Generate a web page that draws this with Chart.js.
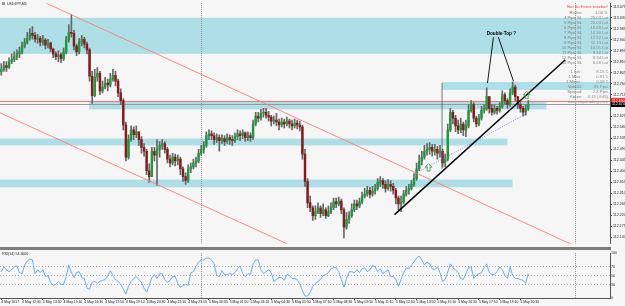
<!DOCTYPE html>
<html>
<head>
<meta charset="utf-8">
<script src="https://cdn.jsdelivr.net/npm/chart.js@4.4.1/dist/chart.umd.min.js"></script>
<style>
  html, body { margin: 0; padding: 0; background: #f6f6f6; }
  body { width: 625px; height: 306px; position: relative; overflow: hidden; }
  #priceChart { position: absolute; left: 0; top: 0; }
  #sep { position: absolute; left: 0; top: 247px; width: 611px; height: 3px; background: #7d7d7d; }
  #rsiChart { position: absolute; left: 0; top: 250px; }
</style>
</head>
<body>
<canvas id="priceChart" width="625" height="247"></canvas>
<div id="sep"></div>
<canvas id="rsiChart" width="625" height="56"></canvas>
<script>
// USDJPY 10-min candles (open = previous close)
const firstOpen = 112.810;
const closes = [
  112.818, 112.834, 112.826, 112.850, 112.858, 112.870, 112.882, 112.890, 112.914, 112.930,
  112.946, 112.966, 112.958, 112.942, 112.946, 112.930, 112.938, 112.918, 112.926, 112.902,
  112.882, 112.870, 112.878, 112.862, 112.890, 112.938, 112.970, 112.966, 112.914, 112.890,
  112.930, 112.942, 112.922, 112.898, 112.790, 112.710, 112.786, 112.802, 112.730, 112.746,
  112.762, 112.754, 112.778, 112.794, 112.770, 112.722, 112.690, 112.590, 112.458, 112.530,
  112.570, 112.550, 112.562, 112.530, 112.498, 112.482, 112.402, 112.378, 112.482, 112.466,
  112.490, 112.506, 112.514, 112.490, 112.450, 112.434, 112.458, 112.442, 112.450, 112.410,
  112.378, 112.362, 112.410, 112.418, 112.434, 112.442, 112.474, 112.490, 112.506, 112.546,
  112.554, 112.546, 112.530, 112.538, 112.526, 112.534, 112.522, 112.538, 112.530, 112.526,
  112.542, 112.554, 112.546, 112.558, 112.538, 112.546, 112.538, 112.594, 112.626, 112.618,
  112.638, 112.642, 112.630, 112.622, 112.606, 112.610, 112.602, 112.590, 112.602, 112.594,
  112.606, 112.594, 112.586, 112.598, 112.590, 112.582, 112.470, 112.358, 112.270, 112.250,
  112.218, 112.234, 112.250, 112.226, 112.242, 112.218, 112.234, 112.250, 112.274, 112.266,
  112.278, 112.242, 112.170, 112.202, 112.218, 112.242, 112.266, 112.258, 112.274, 112.298,
  112.306, 112.322, 112.306, 112.318, 112.330, 112.354, 112.362, 112.346, 112.330, 112.346,
  112.338, 112.322, 112.290, 112.266, 112.274, 112.306, 112.322, 112.330, 112.346, 112.370,
  112.410, 112.442, 112.458, 112.482, 112.490, 112.498, 112.482, 112.490, 112.474, 112.482,
  112.434, 112.450, 112.570, 112.642, 112.618, 112.586, 112.570, 112.594, 112.570, 112.586,
  112.650, 112.674, 112.618, 112.594, 112.618, 112.650, 112.658, 112.706, 112.658, 112.642,
  112.658, 112.650, 112.666, 112.714, 112.690, 112.674, 112.722, 112.746, 112.706, 112.674,
  112.658, 112.642, 112.658, 112.674
];
const highs = [
  112.842, 112.850, 112.850, 112.866, 112.882, 112.890, 112.898, 112.910, 112.930, 112.946,
  112.970, 112.986, 112.994, 112.970, 112.962, 112.954, 112.958, 112.946, 112.942, 112.930,
  112.906, 112.890, 112.894, 112.886, 112.906, 112.954, 113.002, 113.042, 112.978, 112.922,
  112.946, 112.958, 112.950, 112.930, 112.906, 112.810, 112.818, 112.826, 112.810, 112.770,
  112.786, 112.778, 112.802, 112.818, 112.810, 112.778, 112.738, 112.698, 112.602, 112.550,
  112.586, 112.582, 112.586, 112.562, 112.542, 112.514, 112.490, 112.430, 112.498, 112.498,
  112.530, 112.522, 112.530, 112.522, 112.498, 112.466, 112.474, 112.470, 112.466, 112.458,
  112.418, 112.394, 112.426, 112.434, 112.450, 112.458, 112.490, 112.506, 112.522, 112.562,
  112.570, 112.566, 112.558, 112.554, 112.550, 112.550, 112.546, 112.554, 112.550, 112.546,
  112.558, 112.570, 112.566, 112.570, 112.562, 112.562, 112.558, 112.610, 112.642, 112.642,
  112.654, 112.658, 112.658, 112.646, 112.630, 112.626, 112.638, 112.614, 112.618, 112.614,
  112.622, 112.614, 112.610, 112.614, 112.610, 112.606, 112.590, 112.490, 112.370, 112.298,
  112.258, 112.258, 112.270, 112.258, 112.266, 112.250, 112.258, 112.270, 112.290, 112.290,
  112.294, 112.286, 112.250, 112.230, 112.234, 112.266, 112.282, 112.282, 112.290, 112.314,
  112.330, 112.338, 112.334, 112.338, 112.346, 112.370, 112.378, 112.370, 112.362, 112.366,
  112.362, 112.350, 112.330, 112.298, 112.298, 112.322, 112.338, 112.346, 112.362, 112.390,
  112.434, 112.466, 112.482, 112.506, 112.514, 112.518, 112.510, 112.510, 112.502, 112.506,
  112.490, 112.470, 112.594, 112.658, 112.650, 112.630, 112.610, 112.618, 112.602, 112.610,
  112.674, 112.690, 112.682, 112.626, 112.634, 112.666, 112.674, 112.742, 112.698, 112.674,
  112.674, 112.666, 112.682, 112.730, 112.722, 112.698, 112.738, 112.766, 112.754, 112.706,
  112.682, 112.666, 112.674, 112.690
];
const lows = [
  112.794, 112.810, 112.810, 112.822, 112.842, 112.850, 112.858, 112.866, 112.882, 112.906,
  112.922, 112.938, 112.942, 112.930, 112.926, 112.914, 112.918, 112.902, 112.906, 112.890,
  112.866, 112.858, 112.850, 112.846, 112.854, 112.882, 112.930, 112.950, 112.898, 112.874,
  112.882, 112.914, 112.906, 112.882, 112.770, 112.678, 112.706, 112.770, 112.714, 112.722,
  112.738, 112.730, 112.746, 112.770, 112.750, 112.706, 112.674, 112.570, 112.442, 112.450,
  112.522, 112.530, 112.538, 112.506, 112.474, 112.462, 112.386, 112.354, 112.410, 112.442,
  112.342, 112.458, 112.490, 112.474, 112.434, 112.418, 112.426, 112.422, 112.426, 112.386,
  112.358, 112.346, 112.354, 112.394, 112.410, 112.418, 112.434, 112.466, 112.474, 112.498,
  112.530, 112.530, 112.510, 112.518, 112.482, 112.514, 112.506, 112.514, 112.510, 112.506,
  112.518, 112.530, 112.526, 112.534, 112.522, 112.526, 112.522, 112.530, 112.586, 112.602,
  112.610, 112.622, 112.618, 112.606, 112.586, 112.594, 112.586, 112.570, 112.582, 112.578,
  112.586, 112.578, 112.570, 112.578, 112.574, 112.566, 112.450, 112.338, 112.250, 112.234,
  112.198, 112.202, 112.226, 112.210, 112.218, 112.206, 112.214, 112.226, 112.242, 112.250,
  112.258, 112.226, 112.126, 112.162, 112.186, 112.210, 112.234, 112.242, 112.250, 112.266,
  112.290, 112.298, 112.290, 112.298, 112.306, 112.322, 112.338, 112.330, 112.314, 112.322,
  112.318, 112.306, 112.266, 112.242, 112.234, 112.266, 112.298, 112.306, 112.322, 112.338,
  112.362, 112.402, 112.426, 112.450, 112.466, 112.470, 112.462, 112.466, 112.450, 112.458,
  112.418, 112.418, 112.442, 112.562, 112.594, 112.562, 112.554, 112.558, 112.546, 112.542,
  112.578, 112.642, 112.602, 112.582, 112.586, 112.610, 112.638, 112.650, 112.638, 112.630,
  112.634, 112.634, 112.642, 112.658, 112.674, 112.658, 112.666, 112.714, 112.690, 112.658,
  112.642, 112.626, 112.630, 112.650
];
const rsiValues = [
  58.7, 69.6, 63, 58.7, 63, 69.6, 71.7, 56.5, 54.3, 73.9,
  82.6, 87, 84.8, 54.3, 63, 56.5, 63, 47.8, 50, 34.8,
  28.3, 30.4, 37, 30.4, 30.4, 47.8, 73.9, 56.5, 45.7, 56.5,
  58.7, 45.7, 43.5, 21.7, 19.6, 34.8, 37, 32.6, 37, 39.1,
  41.3, 50, 60.9, 50, 41.3, 37, 30.4, 19.6, 8.7, 26.1,
  37, 43.5, 47.8, 41.3, 34.8, 21.7, 13, 28.3, 45.7, 52.2,
  43.5, 54.3, 54.3, 41.3, 34.8, 39.1, 47.8, 47.8, 32.6, 23.9,
  28.3, 30.4, 28.3, 56.5, 58.7, 69.6, 80.4, 84.8, 84.8, 89.1,
  89.1, 84.8, 76.1, 50, 47.8, 60.9, 52.2, 52.2, 54.3, 52.2,
  56.5, 65.2, 71.7, 54.3, 47.8, 54.3, 52.2, 76.1, 84.8, 84.8,
  63, 54.3, 58.7, 63, 56.5, 37, 41.3, 45.7, 45.7, 39.1,
  52.2, 50, 43.5, 43.5, 41.3, 30.4, 17.4, 4.3, 4.3, 13,
  26.1, 32.6, 37, 41.3, 50, 52.2, 56.5, 65.2, 67.4, 67.4,
  58.7, 41.3, 23.9, 43.5, 58.7, 58.7, 56.5, 63, 56.5, 65.2,
  67.4, 58.7, 63, 71.7, 69.6, 58.7, 65.2, 54.3, 58.7, 63,
  47.8, 47.8, 41.3, 26.1, 41.3, 56.5, 67.4, 65.2, 73.9, 80.4,
  89.1, 93.5, 84.8, 73.9, 80.4, 76.1, 65.2, 63, 69.6, 56.5,
  37, 41.3, 58.7, 76.1, 67.4, 63, 56.5, 43.5, 41.3, 54.3,
  67.4, 69.6, 43.5, 50, 54.3, 56.5, 67.4, 76.1, 56.5, 52.2,
  52.2, 58.7, 69.6, 63, 50, 43.5, 69.6, 50, 43.5, 43.5,
  41.3, 39.1, 32.6, 54.3
];

const priceTicks = [112.130, 112.175, 112.220, 112.265, 112.310, 112.355, 112.400, 112.445,
  112.490, 112.535, 112.580, 112.625, 112.670, 112.715, 112.760, 112.805, 112.850, 112.895,
  112.940, 112.985, 113.030, 113.075];
const rsiTicks = [0, 30, 50, 70, 100];
const rsiLevels = [30, 50, 70];
const timeLabels = ['4 May 2017', '4 May 12:30', '4 May 13:50', '4 May 15:10', '4 May 16:30',
  '4 May 17:50', '4 May 19:10', '4 May 20:30', '4 May 21:50', '4 May 23:10', '5 May 00:30',
  '5 May 01:50', '5 May 03:10', '5 May 04:30', '5 May 05:50', '5 May 07:10', '5 May 08:30',
  '5 May 09:50', '5 May 11:10', '5 May 12:30', '5 May 13:50', '5 May 15:10', '5 May 16:30',
  '5 May 17:50', '5 May 19:10', '5 May 20:30'];
const LABEL_EVERY = 8;
const SLOT_COUNT = 235;       // bars + empty space on the right
const redLevel = 112.690;
const daySeparators = [77, 221];

// objects drawn on the chart, in bar index / price units
const zones = [
  { from: -0.5, to: null, top: 113.030, bottom: 112.882 },
  { from: 169.8, to: null, top: 112.766, bottom: 112.734 },
  { from: 33.8, to: 210, top: 112.686, bottom: 112.654 },
  { from: -0.5, to: 195, top: 112.534, bottom: 112.506 },
  { from: -0.5, to: 197, top: 112.366, bottom: 112.334 }
];
const channelLines = [
  { x1: 17.3, y1: 113.090, x2: 235, y2: 112.025 },
  { x1: -0.5, y1: 112.640, x2: 120, y2: 112.054 }
];
const blackLines = [
  { x1: 151.5, y1: 112.222, x2: 217.3, y2: 112.858, w: 1.4 },
  { x1: 189.6, y1: 112.950, x2: 187.3, y2: 112.762, w: 0.9 },
  { x1: 191.5, y1: 112.950, x2: 197.3, y2: 112.770, w: 0.9 }
];
const dottedLine = { x1: 161.5, y1: 112.402, x2: 202.7, y2: 112.638 };
const boxEdge = { x: 169.8, top: 112.762, bottom: 112.410 };
const arrows = [{ x: 164.6, y: 112.415 }, { x: 202.4, y: 112.712 }];
const noteText = { x: 187.0, y: 112.966, text: 'Double-Top ?' };

const infoTitle = 'Nur für Forex nutzbar!';
const infoRows = [
  ['Risiko:', '1.00 %'], ['4 Pips SL', '25.03 Lot'], ['5 Pips SL', '20.03 Lot'],
  ['6 Pips SL', '16.69 Lot'], ['7 Pips SL', '14.30 Lot'], ['8 Pips SL', '12.52 Lot'],
  ['9 Pips SL', '11.13 Lot'], ['10 Pips SL', '10.01 Lot'], ['11 Pips SL', '9.10 Lot'],
  ['12 Pips SL', '8.34 Lot'], ['15 Pips SL', '6.68 Lot']
];
const infoRows2 = [
  ['1 Lot :', '8.15 €'], ['1 Mini :', '0.81 €'], ['1 Micro :', '0.08 €'],
  ['Vola20:', '85 Pips'], ['Spread:', '2.3 Pips'], ['Kerze:', '0:15 (4:45)']
];
const infoLink = 'www.cap-trading.com';

const opens = closes.map((c, i) => i === 0 ? firstOpen : closes[i - 1]);
const bodies = closes.map((c, i) => [opens[i], c]);
const wicks = closes.map((c, i) => [Math.min(lows[i], opens[i], c), Math.max(highs[i], opens[i], c)]);
const slots = Array.from({ length: SLOT_COUNT }, (_, i) => i);
const FONT = 'Arial, "Liberation Sans", sans-serif';

function fixWidth(scale) { scale.width = 15; }

function drawSegment(ctx, chart, l, color, width, dash) {
  const x = chart.scales.x, y = chart.scales.y;
  ctx.beginPath();
  ctx.strokeStyle = color;
  ctx.lineWidth = width;
  ctx.setLineDash(dash || []);
  ctx.moveTo(x.getPixelForValue(l.x1), y.getPixelForValue(l.y1));
  ctx.lineTo(x.getPixelForValue(l.x2), y.getPixelForValue(l.y2));
  ctx.stroke();
  ctx.setLineDash([]);
}

function drawDaySeparators(chart) {
  const ctx = chart.ctx, area = chart.chartArea;
  ctx.save();
  ctx.strokeStyle = '#8a8a8a';
  ctx.lineWidth = 1;
  ctx.setLineDash([1, 1]);
  daySeparators.forEach(d => {
    const px = Math.round(chart.scales.x.getPixelForValue(d)) + 0.5;
    ctx.beginPath();
    ctx.moveTo(px, area.top);
    ctx.lineTo(px, area.bottom);
    ctx.stroke();
  });
  ctx.restore();
}

const priceOverlay = {
  id: 'priceOverlay',
  beforeDatasetsDraw(chart) {
    const ctx = chart.ctx, area = chart.chartArea;
    const x = chart.scales.x, y = chart.scales.y;
    ctx.save();
    ctx.fillStyle = '#aedfe6';
    zones.forEach(z => {
      const x1 = x.getPixelForValue(z.from);
      const x2 = z.to === null ? area.right : x.getPixelForValue(z.to);
      const y1 = y.getPixelForValue(z.top), y2 = y.getPixelForValue(z.bottom);
      ctx.fillRect(x1, y1, x2 - x1, y2 - y1);
    });
    // bid line and red level line
    const bid = closes[closes.length - 1];
    ctx.strokeStyle = '#9a9a9a';
    ctx.lineWidth = 1;
    let py = Math.round(y.getPixelForValue(bid)) + 0.5;
    ctx.beginPath(); ctx.moveTo(area.left, py); ctx.lineTo(area.right, py); ctx.stroke();
    ctx.strokeStyle = '#ff7373';
    py = Math.round(y.getPixelForValue(redLevel)) + 0.5;
    ctx.beginPath(); ctx.moveTo(area.left, py); ctx.lineTo(area.right, py); ctx.stroke();
    ctx.restore();
    drawDaySeparators(chart);
  },
  afterDatasetsDraw(chart) {
    const ctx = chart.ctx, area = chart.chartArea;
    const x = chart.scales.x, y = chart.scales.y;
    ctx.save();
    ctx.beginPath();
    ctx.rect(area.left, area.top, area.right - area.left, area.bottom - area.top);
    ctx.clip();
    channelLines.forEach(l => drawSegment(ctx, chart, l, '#ff7b7b', 0.9));
    drawSegment(ctx, chart, dottedLine, '#7878ff', 0.9, [1, 1.5]);
    drawSegment(ctx, chart, { x1: boxEdge.x, y1: boxEdge.top, x2: boxEdge.x, y2: boxEdge.bottom }, '#555', 0.8);
    blackLines.forEach(l => drawSegment(ctx, chart, l, '#000', l.w));

    // green arrows
    ctx.strokeStyle = '#3aa845';
    ctx.lineWidth = 0.9;
    arrows.forEach(a => {
      const cx = x.getPixelForValue(a.x), cy = y.getPixelForValue(a.y);
      ctx.beginPath();
      ctx.moveTo(cx, cy - 4);
      ctx.lineTo(cx + 3.5, cy - 0.5);
      ctx.lineTo(cx + 1.5, cy - 0.5);
      ctx.lineTo(cx + 1.5, cy + 3.5);
      ctx.lineTo(cx - 1.5, cy + 3.5);
      ctx.lineTo(cx - 1.5, cy - 0.5);
      ctx.lineTo(cx - 3.5, cy - 0.5);
      ctx.closePath();
      ctx.stroke();
    });

    ctx.fillStyle = '#000';
    ctx.font = 'bold 4.6px ' + FONT;
    ctx.textBaseline = 'middle';
    ctx.textAlign = 'left';
    ctx.fillText(noteText.text, x.getPixelForValue(noteText.x), y.getPixelForValue(noteText.y));
    ctx.restore();
  },
  afterDraw(chart) {
    const ctx = chart.ctx, area = chart.chartArea, y = chart.scales.y;
    ctx.save();
    ctx.textBaseline = 'middle';

    // title
    ctx.fillStyle = '#9a9a9a';
    ctx.fillRect(2, 2, 3, 3);
    ctx.fillStyle = '#222';
    ctx.font = '3.6px ' + FONT;
    ctx.textAlign = 'left';
    ctx.fillText('USDJPY,M5', 7, 4);

    // info panel
    const right = area.right - 2, labelRight = area.right - 28;
    ctx.font = '4.2px ' + FONT;
    ctx.textAlign = 'right';
    ctx.fillStyle = '#ff3b3b';
    ctx.fillText(infoTitle, right, 7);
    infoRows.forEach((r, i) => {
      const ry = 12.5 + i * 5;
      ctx.fillStyle = '#7a7a7a';
      ctx.fillText(r[0], labelRight, ry);
      ctx.fillStyle = '#8a8a8a';
      ctx.fillText(r[1], right, ry);
    });
    infoRows2.forEach((r, i) => {
      const ry = 72 + i * 5;
      ctx.fillStyle = '#7a7a7a';
      ctx.fillText(r[0], labelRight, ry);
      ctx.fillStyle = '#8a8a8a';
      ctx.fillText(r[1], right, ry);
    });
    ctx.fillStyle = '#8a8a8a';
    ctx.fillText(infoLink, right, 102);

    // price boxes on the axis
    ctx.font = '3.6px ' + FONT;
    ctx.textAlign = 'left';
    const boxes = [
      { v: redLevel, bg: '#ff1a1a' },
      { v: closes[closes.length - 1], bg: '#000' }
    ];
    boxes.forEach(b => {
      const by = y.getPixelForValue(b.v);
      ctx.fillStyle = b.bg;
      ctx.fillRect(area.right + 1, by - 2.5, 15, 5);
      ctx.fillStyle = '#fff';
      ctx.fillText(b.v.toFixed(3), area.right + 2, by);
    });
    ctx.restore();
  }
};

const rsiOverlay = {
  id: 'rsiOverlay',
  beforeDatasetsDraw(chart) {
    drawDaySeparators(chart);
  },
  afterDraw(chart) {
    const ctx = chart.ctx;
    ctx.save();
    ctx.fillStyle = '#222';
    ctx.font = '3.6px ' + FONT;
    ctx.textBaseline = 'middle';
    ctx.fillText('RSI(14) ' + rsiValues[rsiValues.length - 1].toFixed(4), 2, 4);
    ctx.restore();
  }
};

new Chart(document.getElementById('priceChart').getContext('2d'), {
  type: 'bar',
  data: {
    labels: slots,
    datasets: [
      {
        label: 'Body',
        data: bodies,
        grouped: false,
        barThickness: 1.8,
        minBarLength: 1,
        borderWidth: 0,
        backgroundColor: ctx => {
          const i = ctx.dataIndex;
          return closes[i] >= opens[i] ? '#1f9a3a' : '#8a1a1a';
        }
      },
      {
        label: 'Wick',
        data: wicks,
        grouped: false,
        barThickness: 1,
        borderWidth: 0,
        backgroundColor: '#666'
      }
    ]
  },
  options: {
    responsive: false,
    animation: false,
    events: [],
    layout: { padding: 0, autoPadding: false },
    plugins: { legend: { display: false }, tooltip: { enabled: false } },
    scales: {
      x: { display: false, offset: true },
      y: {
        position: 'right',
        min: 112.102,
        max: 113.090,
        afterFit: fixWidth,
        afterBuildTicks: scale => { scale.ticks = priceTicks.map(v => ({ value: v })); },
        ticks: {
          padding: 1,
          color: '#222',
          font: { size: 3.6, family: FONT },
          callback: v => Number(v).toFixed(3)
        },
        grid: { drawOnChartArea: false, drawTicks: true, tickLength: 2, color: '#555' },
        border: { display: true, color: '#555', width: 1 }
      }
    }
  },
  plugins: [priceOverlay]
});

new Chart(document.getElementById('rsiChart').getContext('2d'), {
  type: 'line',
  data: {
    labels: slots,
    datasets: [{
      label: 'RSI',
      data: rsiValues,
      borderColor: '#5aa6f2',
      borderWidth: 0.9,
      pointRadius: 0,
      tension: 0,
      fill: false
    }]
  },
  options: {
    responsive: false,
    animation: false,
    events: [],
    layout: { padding: { top: 1 }, autoPadding: false },
    plugins: { legend: { display: false }, tooltip: { enabled: false } },
    scales: {
      x: {
        offset: true,
        afterFit: scale => { scale.height = 8; },
        afterBuildTicks: scale => {
          scale.ticks = scale.ticks.filter(t => t.value % LABEL_EVERY === 0 && t.value / LABEL_EVERY < timeLabels.length);
        },
        ticks: {
          autoSkip: false,
          maxRotation: 0,
          minRotation: 0,
          align: 'start',
          padding: 0,
          color: '#222',
          font: { size: 3.4, family: FONT },
          callback: v => timeLabels[v / LABEL_EVERY]
        },
        grid: { drawOnChartArea: false, drawTicks: true, tickLength: 2, offset: false, color: '#555' },
        border: { display: true, color: '#555' }
      },
      y: {
        position: 'right',
        min: 0,
        max: 100,
        afterFit: fixWidth,
        afterBuildTicks: scale => { scale.ticks = rsiTicks.map(v => ({ value: v })); },
        ticks: {
          padding: 1,
          color: '#222',
          font: { size: 3.6, family: FONT }
        },
        grid: {
          drawTicks: false,
          color: ctx => rsiLevels.includes(ctx.tick && ctx.tick.value) ? '#aaaaaa' : 'transparent'
        },
        border: { display: true, color: '#555', width: 1, dash: [1, 2] }
      }
    }
  },
  plugins: [rsiOverlay]
});
</script>
</body>
</html>
